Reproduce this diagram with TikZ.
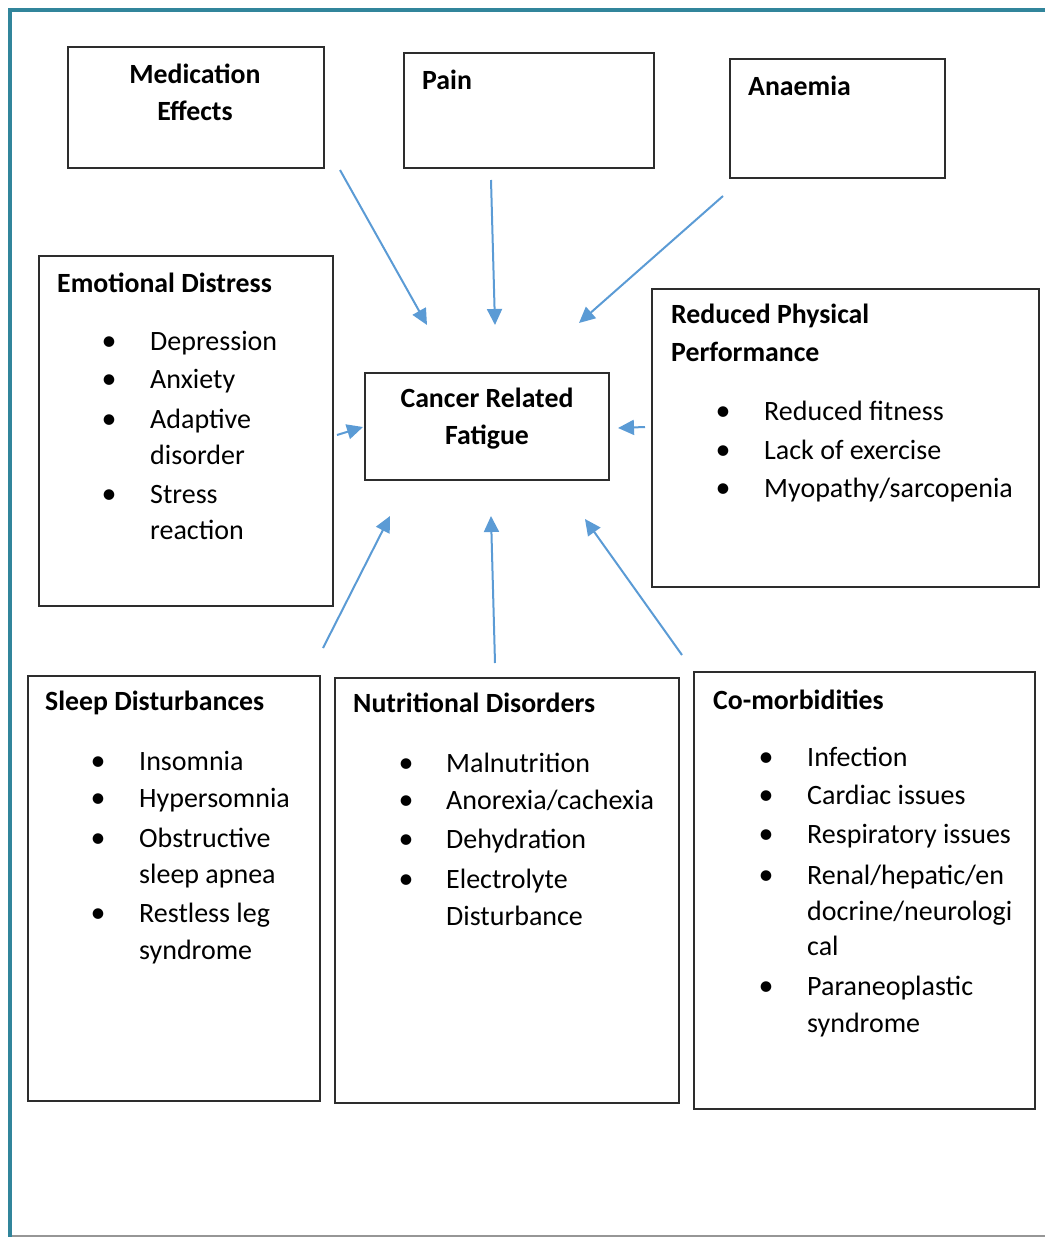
\documentclass[tikz,border=0pt]{standalone}
\usepackage{fontspec}
\setmainfont{Carlito}
\usetikzlibrary{arrows.meta}
\definecolor{frameteal}{RGB}{49,133,155}
\definecolor{arrowblue}{RGB}{91,155,213}
\definecolor{boxline}{RGB}{45,45,45}
\definecolor{rulegrey}{RGB}{150,150,150}

\begin{document}
\begin{tikzpicture}[x=1pt,y=-1pt,
  box/.style={draw=boxline, line width=1.6pt, rectangle, inner sep=0pt, anchor=north west},
  ttl/.style={font=\fontsize{27.8}{32}\selectfont\bfseries, inner sep=0pt, anchor=base west},
  ctl/.style={font=\fontsize{27.8}{32}\selectfont\bfseries, inner sep=0pt, anchor=base},
  itm/.style={font=\fontsize{28}{32}\selectfont, inner sep=0pt, anchor=base west},
  bul/.style={font=\fontsize{30}{32}\selectfont, inner sep=0pt, anchor=base},
  link/.style={draw=arrowblue, line width=2pt, -{Triangle[length=16pt,width=15pt]}}
]
\useasboundingbox (0,0) rectangle (1045,1237);

% outer frame: teal top and left rules, thin grey bottom rule
\coordinate (fTL) at (10,10);
\coordinate (fTR) at (1045,10);
\coordinate (fBL) at (10,1237);
\coordinate (bL) at (12,1236);
\coordinate (bR) at (1045,1236);
\draw[frameteal, line width=4pt] (fTR) -- (fTL) -- (fBL);
\draw[rulegrey, line width=1.5pt] (bL) -- (bR);

% boxes
\node[box, minimum width=256pt, minimum height=121pt] (med)   at (67,46)  {};
\node[box, minimum width=250pt, minimum height=115pt] (pain)  at (403,52) {};
\node[box, minimum width=215pt, minimum height=119pt] (anaem) at (729,58) {};
\node[box, minimum width=294pt, minimum height=350pt] (emo)   at (38,255) {};
\node[box, minimum width=244pt, minimum height=107pt] (crf)   at (364,372) {};
\node[box, minimum width=387pt, minimum height=298pt] (phys)  at (651,288) {};
\node[box, minimum width=292pt, minimum height=425pt] (sleep) at (27,675) {};
\node[box, minimum width=344pt, minimum height=425pt] (nutr)  at (334,677) {};
\node[box, minimum width=341pt, minimum height=437pt] (comor) at (693,671) {};

% titles
\node[ctl] (medA) at (195,83)  {Medication};
\node[ctl] (medB) at (195,120) {Effects};
\node[ttl] (painT) at (422,89) {Pain};
\node[ttl] (anaT)  at (748,95) {Anaemia};
\node[ctl] (crfA) at (487,407) {Cancer Related};
\node[ctl] (crfB) at (487,444) {Fatigue};
\node[ttl] (emoT)  at (57,292) {Emotional Distress};
\node[ttl] (physA) at (671,323) {Reduced Physical};
\node[ttl] (physB) at (671,361) {Performance};
\node[ttl] (sleepT) at (45,710) {Sleep Disturbances};
\node[ttl] (nutrT)  at (353,712) {Nutritional Disorders};
\node[ttl] (comT)   at (713,709) {Co-morbidities};

% emotional distress list
\node[bul] (eb1) at (109,350) {\textbullet};
\node[itm] (e1)  at (150,350) {Depression};
\node[bul] (eb2) at (109,388) {\textbullet};
\node[itm] (e2)  at (150,388) {Anxiety};
\node[bul] (eb3) at (109,428) {\textbullet};
\node[itm] (e3)  at (150,428) {Adaptive};
\node[itm] (e3b) at (150,464) {disorder};
\node[bul] (eb4) at (109,503) {\textbullet};
\node[itm] (e4)  at (150,503) {Stress};
\node[itm] (e4b) at (150,539) {reaction};

% reduced physical performance list
\node[bul] (pb1) at (723,420) {\textbullet};
\node[itm] (p1)  at (764,420) {Reduced fitness};
\node[bul] (pb2) at (723,459) {\textbullet};
\node[itm] (p2)  at (764,459) {Lack of exercise};
\node[bul] (pb3) at (723,497) {\textbullet};
\node[itm] (p3)  at (764,497) {Myopathy/sarcopenia};

% sleep disturbances list
\node[bul] (sb1) at (98,770) {\textbullet};
\node[itm] (s1)  at (139,770) {Insomnia};
\node[bul] (sb2) at (98,807) {\textbullet};
\node[itm] (s2)  at (139,807) {Hypersomnia};
\node[bul] (sb3) at (98,847) {\textbullet};
\node[itm] (s3)  at (139,847) {Obstructive};
\node[itm] (s3b) at (139,883) {sleep apnea};
\node[bul] (sb4) at (98,922) {\textbullet};
\node[itm] (s4)  at (139,922) {Restless leg};
\node[itm] (s4b) at (139,959) {syndrome};

% nutritional disorders list
\node[bul] (nb1) at (406,772) {\textbullet};
\node[itm] (n1)  at (446,772) {Malnutrition};
\node[bul] (nb2) at (406,809) {\textbullet};
\node[itm] (n2)  at (446,809) {Anorexia/cachexia};
\node[bul] (nb3) at (406,848) {\textbullet};
\node[itm] (n3)  at (446,848) {Dehydration};
\node[bul] (nb4) at (406,888) {\textbullet};
\node[itm] (n4)  at (446,888) {Electrolyte};
\node[itm] (n4b) at (446,925) {Disturbance};

% co-morbidities list
\node[bul] (cb1) at (766,766) {\textbullet};
\node[itm] (c1)  at (807,766) {Infection};
\node[bul] (cb2) at (766,804) {\textbullet};
\node[itm] (c2)  at (807,804) {Cardiac issues};
\node[bul] (cb3) at (766,843) {\textbullet};
\node[itm] (c3)  at (807,843) {Respiratory issues};
\node[bul] (cb4) at (766,884) {\textbullet};
\node[itm] (c4)  at (807,884) {Renal/hepatic/en};
\node[itm] (c4b) at (807,920) {docrine/neurologi};
\node[itm] (c4c) at (807,955) {cal};
\node[bul] (cb5) at (766,995) {\textbullet};
\node[itm] (c5)  at (807,995) {Paraneoplastic};
\node[itm] (c5b) at (807,1032) {syndrome};

% arrow end points around the central box
\coordinate (aMedS) at (340,170);  \coordinate (aMedE) at (427,325);
\coordinate (aPainS) at (491,180); \coordinate (aPainE) at (495,325);
\coordinate (aAnaS) at (723,196);  \coordinate (aAnaE) at (579,323);
\coordinate (aEmoS) at (337,435);  \coordinate (aEmoE) at (363,427);
\coordinate (aPhyS) at (645,427);  \coordinate (aPhyE) at (618,428);
\coordinate (aSlpS) at (323,648);  \coordinate (aSlpE) at (390,516);
\coordinate (aNutS) at (495,663);  \coordinate (aNutE) at (491,516);
\coordinate (aComS) at (682,655);  \coordinate (aComE) at (585,519);

\draw[link] (aMedS) -- (aMedE);
\draw[link] (aPainS) -- (aPainE);
\draw[link] (aAnaS) -- (aAnaE);
\draw[link] (aEmoS) -- (aEmoE);
\draw[link] (aPhyS) -- (aPhyE);
\draw[link] (aSlpS) -- (aSlpE);
\draw[link] (aNutS) -- (aNutE);
\draw[link] (aComS) -- (aComE);
\end{tikzpicture}
\end{document}
